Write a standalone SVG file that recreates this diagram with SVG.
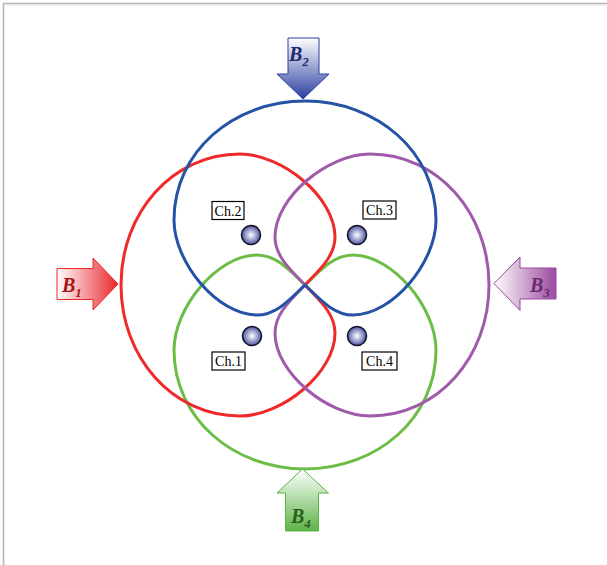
<svg xmlns="http://www.w3.org/2000/svg" width="607" height="565" viewBox="0 0 607 565">
<style>
.lobe{fill:none;stroke-width:3;stroke-linejoin:round}
.lbl{fill:#fff;stroke:#000;stroke-width:1.2}
.lt{font-family:"Liberation Serif",serif;font-size:14px;fill:#000;text-anchor:middle}
.dot{fill:url(#dotg);stroke:#15152a;stroke-width:1.6}
.bt{font-family:"Liberation Serif",serif;font-style:italic;font-weight:bold;font-size:20px}
.bs{font-size:13px}
</style>
<defs>
<path id="lobe" d="M53 0 C66 -14 83 -28 83 -48 C83 -88 30 -131 -12 -131 C-80 -131 -131 -72 -131 0 C-131 72 -80 131 -12 131 C30 131 83 88 83 48 C83 28 66 14 53 0 Z"/>
<radialGradient id="dotg" cx="0.5" cy="0.5" r="0.55">
<stop offset="0" stop-color="#ffffff"/>
<stop offset="0.45" stop-color="#a9acd6"/>
<stop offset="1" stop-color="#3e4290"/>
</radialGradient>
<linearGradient id="g1" x1="0" y1="0" x2="1" y2="0">
<stop offset="0" stop-color="#ffffff"/>
<stop offset="1" stop-color="#e8262b"/>
</linearGradient>
<linearGradient id="g2" x1="0" y1="0" x2="0" y2="1">
<stop offset="0" stop-color="#ffffff"/>
<stop offset="1" stop-color="#2b3f9f"/>
</linearGradient>
<linearGradient id="g3" x1="1" y1="0" x2="0" y2="0">
<stop offset="0" stop-color="#9a4a9e"/>
<stop offset="1" stop-color="#ffffff"/>
</linearGradient>
<linearGradient id="g4" x1="0" y1="1" x2="0" y2="0">
<stop offset="0" stop-color="#5cb446"/>
<stop offset="1" stop-color="#ffffff"/>
</linearGradient>
</defs>
<rect width="607" height="565" fill="#fff"/>
<path d="M3 3.5 H607 M3.5 3 V565" stroke="#b4b4b4" stroke-width="1.5" fill="none"/>
<path d="M4.5 5 H607" stroke="#e6e6e6" stroke-width="1" fill="none"/>

<g id="connectors">
<use href="#lobe" class="lobe" stroke="#6cbd45" transform="translate(305,338) rotate(-90)"/>
<use href="#lobe" class="lobe" stroke="#ee2a2a" transform="translate(252,285)"/>
<use href="#lobe" class="lobe" stroke="#a05aaa" transform="translate(358,285) rotate(180)"/>
<use href="#lobe" class="lobe" stroke="#2452a4" transform="translate(305,232) rotate(90)"/>
</g>

<g id="ch2"><circle class="dot" cx="251" cy="235" r="9.5"/><rect class="lbl" x="212" y="201.5" width="32" height="18"/><text class="lt" x="228" y="215.5">Ch.2</text></g>
<g id="ch3"><circle class="dot" cx="357" cy="235" r="9.5"/><rect class="lbl" x="363" y="201" width="33" height="18"/><text class="lt" x="379.5" y="215">Ch.3</text></g>
<g id="ch1"><circle class="dot" cx="252" cy="336" r="9.5"/><rect class="lbl" x="212" y="352" width="33" height="18"/><text class="lt" x="228.5" y="366">Ch.1</text></g>
<g id="ch4"><circle class="dot" cx="357" cy="336" r="9.5"/><rect class="lbl" x="362" y="352" width="35" height="18"/><text class="lt" x="379.5" y="366">Ch.4</text></g>

<g id="B1">
<path d="M57 268.5 H93 V258 L118 284 L93 310 V299.5 H57 Z" fill="url(#g1)" stroke="#e8262b" stroke-width="1"/>
<text class="bt" x="62" y="292" fill="#a8141c">B<tspan class="bs" dy="5">1</tspan></text>
</g>
<g id="B2">
<path d="M288 38 V74 H277 L303 99 L329 74 H319 V38 Z" fill="url(#g2)" stroke="#2b3f9f" stroke-width="1"/>
<text class="bt" x="289" y="61" fill="#1c2a70">B<tspan class="bs" dy="5">2</tspan></text>
</g>
<g id="B3">
<path d="M556 268 H520 V257 L494 283.5 L520 310.5 V299 H556 Z" fill="url(#g3)" stroke="#9a4a9e" stroke-width="1"/>
<text class="bt" x="530" y="292" fill="#6e2a72">B<tspan class="bs" dy="5">3</tspan></text>
</g>
<g id="B4">
<path d="M285.5 531 V493 H277 L302.5 469 L328.5 493 H318.5 V531 Z" fill="url(#g4)" stroke="#5cb446" stroke-width="1"/>
<text class="bt" x="291" y="523" fill="#2d5e1c">B<tspan class="bs" dy="5">4</tspan></text>
</g>
</svg>
